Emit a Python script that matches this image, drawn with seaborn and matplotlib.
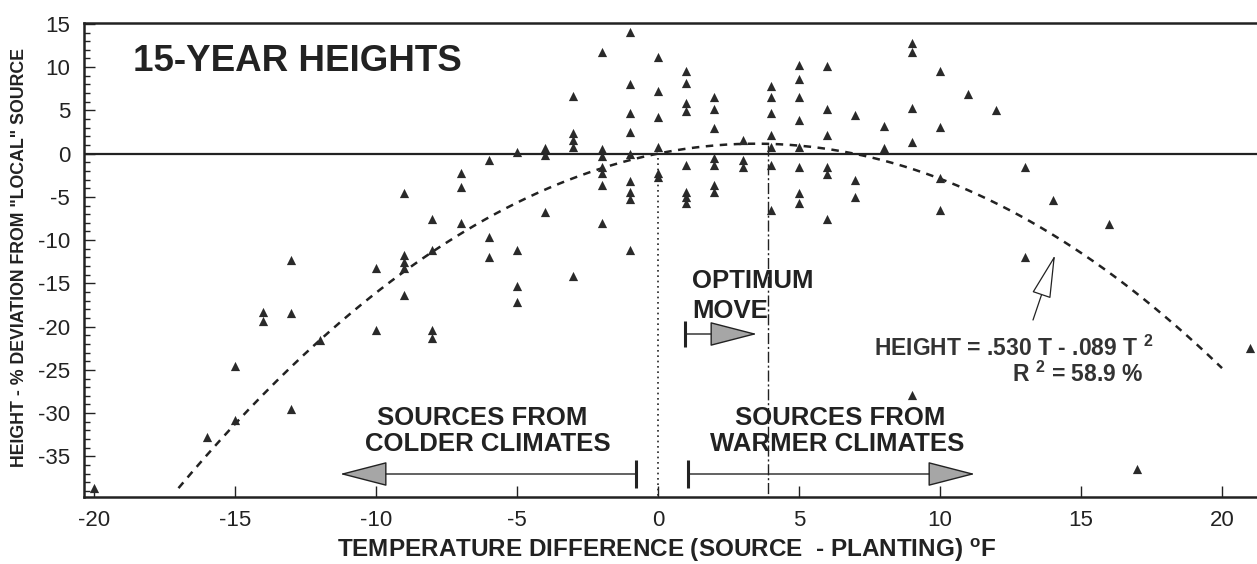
import numpy as np
import pandas as pd
import matplotlib
matplotlib.use("Agg")
import matplotlib.pyplot as plt
from matplotlib.ticker import MultipleLocator
import seaborn as sns

# ---------------- data ----------------
temp_diff = [
    -20, -16, -15, -15, -14, -14, -13, -13, -13, -12,
    -10, -10, -9, -9, -9, -9, -9, -8, -8, -8, -8,
    -7, -7, -7, -6, -6, -6, -5, -5, -5, -5,
    -4, -4, -4, -3, -3, -3, -3, -3,
    -2, -2, -2, -2, -2, -2, -2,
    -1, -1, -1, -1, -1, -1, -1, -1, -1,
    0, 0, 0, 0, 0, 0,
    1, 1, 1, 1, 1, 1, 1, 1,
    2, 2, 2, 2, 2, 2, 2,
    3, 3, 3,
    4, 4, 4, 4, 4, 4, 4,
    5, 5, 5, 5, 5, 5, 5, 5,
    6, 6, 6, 6, 6, 6,
    7, 7, 7, 8, 8,
    9, 9, 9, 9, 9,
    10, 10, 10, 10,
    11, 12, 13, 13, 14, 16, 17, 21,
]
height_dev = [
    -38.7, -32.8, -24.5, -30.8, -18.3, -19.4, -12.3, -18.4, -29.5, -21.5,
    -13.2, -20.4, -4.5, -11.7, -12.5, -13.2, -16.3, -7.6, -11.1, -20.4, -21.3,
    -2.2, -3.9, -8.0, -0.7, -9.6, -12.0, 0.2, -11.2, -15.3, -17.2,
    0.7, -0.2, -6.7, 6.7, 2.4, 1.6, 0.8, -14.2,
    11.8, 0.5, -0.3, -1.5, -2.2, -3.6, -8.0,
    14.1, 8.0, 4.7, 2.5, -0.1, -3.2, -4.4, -5.3, -11.2,
    11.2, 7.2, 4.2, 0.8, -2.2, -2.7,
    9.5, 8.2, 5.9, 4.9, -1.3, -4.4, -5.0, -5.7,
    6.5, 5.1, 3.0, -0.5, -1.3, -3.6, -4.4,
    1.6, -0.7, -1.6,
    7.8, 6.6, 4.7, 2.2, 0.8, -1.3, -6.5,
    10.3, 8.6, 6.5, 3.9, 0.8, -1.5, -4.5, -5.7,
    10.1, 5.1, 2.2, -1.5, -2.4, -7.6,
    4.5, -3.0, -5.0, 3.2, 0.7,
    12.8, 11.8, 5.3, 1.3, -27.9,
    9.6, 3.1, -2.8, -6.5,
    6.9, 5.0, -1.6, -12.0, -5.4, -8.1, -36.5, -22.5,
]

# fitted quadratic as drawn: HEIGHT = a*T + b*T^2
fit_coef = [0.66, -0.095]
fit_range = [-17.0, 20.0]
optimum_t = 3.9

x_ticks = [-20, -15, -10, -5, 0, 5, 10, 15, 20]
y_ticks = [15, 10, 5, 0, -5, -10, -15, -20, -25, -30, -35]

df = pd.DataFrame({"T": temp_diff, "H": height_dev})
curve_t = np.linspace(fit_range[0], fit_range[1], 300)
curve_h = fit_coef[0] * curve_t + fit_coef[1] * curve_t ** 2
curve_df = pd.DataFrame({"T": curve_t, "H": curve_h})

# ---------------- style ----------------
sns.set_theme(style="white")
plt.rcParams["font.family"] = ["Liberation Sans", "DejaVu Sans"]
plt.rcParams["axes.unicode_minus"] = False
plt.rcParams["mathtext.fontset"] = "custom"
plt.rcParams["mathtext.rm"] = "Liberation Sans"
plt.rcParams["mathtext.bf"] = "Liberation Sans:bold"
INK = "#222222"

W, H = 1257, 564
fig = plt.figure(figsize=(W / 100, H / 100), dpi=100)
ax_left, ax_right, ax_top, ax_bottom = 84, 1257, 23, 497
ax = fig.add_axes([ax_left / W, 1 - ax_bottom / H,
                   (ax_right - ax_left) / W, (ax_bottom - ax_top) / H])

XL = (-20.35, 21.24)
YL = (-39.7, 15.1)
ax.set_xlim(*XL)
ax.set_ylim(*YL)

# zero line
ax.axhline(0, color=INK, lw=1.6, zorder=1)

# vertical reference lines
ax.plot([0, 0], [-0.5, YL[0]], color=INK, lw=1.2, ls=(0, (1, 2.2)), zorder=1)
ax.plot([optimum_t, optimum_t], [1.0, YL[0]], color=INK, lw=1.0,
        ls=(0, (8, 2, 1.5, 2)), zorder=1)

# fitted curve
sns.lineplot(data=curve_df, x="T", y="H", ax=ax, color=INK, lw=1.8,
             linestyle=(0, (3, 2.6)), sort=False, estimator=None, zorder=2)

# scatter
sns.scatterplot(data=df, x="T", y="H", ax=ax, marker="^", s=44,
                color="#2a2a2a", linewidth=0, zorder=3)

# axes styling
for side in ["left", "top", "bottom"]:
    ax.spines[side].set_visible(True)
    ax.spines[side].set_color(INK)
    ax.spines[side].set_linewidth(1.8)
ax.spines["right"].set_visible(False)

ax.set_xticks(x_ticks)
ax.set_yticks(y_ticks)
ax.set_xticklabels([str(v) for v in x_ticks])
ax.set_yticklabels([str(v) for v in y_ticks])
ax.yaxis.set_minor_locator(MultipleLocator(1))
ax.tick_params(axis="both", which="both", direction="in", colors=INK,
               labelsize=16, width=1.0)
ax.tick_params(axis="y", which="major", length=8, pad=10, left=True)
ax.tick_params(axis="y", which="minor", length=4, left=True)
ax.tick_params(axis="x", which="major", length=8, pad=9, bottom=True)
ax.set_xlabel("")
ax.set_ylabel("")

# axis titles
fig.text(667 / W, 1 - 550 / H,
         r"TEMPERATURE DIFFERENCE (SOURCE  - PLANTING) $^{\mathbf{o}}$F",
         ha="center", va="center", fontsize=17.5, fontweight="bold", color=INK)
fig.text(20 / W, 1 - 258 / H, 'HEIGHT - % DEVIATION FROM "LOCAL" SOURCE',
         ha="center", va="center", rotation=90, fontsize=12.8,
         fontweight="bold", color=INK)

# helpers: pixel -> data
def px2t(px):
    return XL[0] + (px - ax_left) / (ax_right - ax_left) * (XL[1] - XL[0])

def py2h(py):
    return YL[1] - (py - ax_top) / (ax_bottom - ax_top) * (YL[1] - YL[0])

# title inside
ax.text(px2t(133), py2h(61), "15-YEAR HEIGHTS", ha="left", va="center",
        fontsize=26.5, fontweight="bold", color=INK)

# optimum move
ax.text(px2t(692), py2h(281), "OPTIMUM", ha="left", va="center",
        fontsize=18.5, fontweight="bold", color=INK)
ax.text(px2t(692), py2h(311), "MOVE", ha="left", va="center",
        fontsize=18.5, fontweight="bold", color=INK)

def gray_arrow(x0px, x1px, ypx, bar_half_px):
    y = py2h(ypx)
    ax.plot([px2t(x0px)] * 2, [py2h(ypx - bar_half_px), py2h(ypx + bar_half_px)],
            color=INK, lw=2.2, solid_capstyle="butt", zorder=4)
    ax.annotate("", xy=(px2t(x1px), y), xytext=(px2t(x0px), y),
                arrowprops=dict(arrowstyle="-|>,head_length=1.55,head_width=0.4",
                                mutation_scale=20, fc="#a6a6a6", ec=INK, lw=1.0,
                                shrinkA=0, shrinkB=0), zorder=4)

gray_arrow(685, 757, 334, 13)
gray_arrow(636, 340, 474, 14)
gray_arrow(688, 975, 474, 14)

# sources labels
ax.text(px2t(482), py2h(418), "SOURCES FROM", ha="center", va="center",
        fontsize=18.5, fontweight="bold", color=INK)
ax.text(px2t(488), py2h(444), "COLDER CLIMATES", ha="center", va="center",
        fontsize=18.5, fontweight="bold", color=INK)
ax.text(px2t(840), py2h(418), "SOURCES FROM", ha="center", va="center",
        fontsize=18.5, fontweight="bold", color=INK)
ax.text(px2t(837), py2h(444), "WARMER CLIMATES", ha="center", va="center",
        fontsize=18.5, fontweight="bold", color=INK)

# formula
ax.text(px2t(1153), py2h(348), r"HEIGHT = .530 T - .089 T $^{\mathbf{2}}$",
        ha="right", va="center", fontsize=16.5, fontweight="bold", color="#333333")
ax.text(px2t(1143), py2h(374), r"R $^{\mathbf{2}}$ = 58.9 %", ha="right",
        va="center", fontsize=16.5, fontweight="bold", color="#333333")

# hollow pointer arrow to curve
ax.annotate("", xy=(px2t(1055), py2h(255)), xytext=(px2t(1033), py2h(320)),
            arrowprops=dict(arrowstyle="-|>,head_length=2.0,head_width=0.45",
                            mutation_scale=14, fc="white", ec=INK, lw=0.9,
                            shrinkA=0, shrinkB=0), zorder=4)

fig.savefig("out.png", dpi=100, facecolor="white")
